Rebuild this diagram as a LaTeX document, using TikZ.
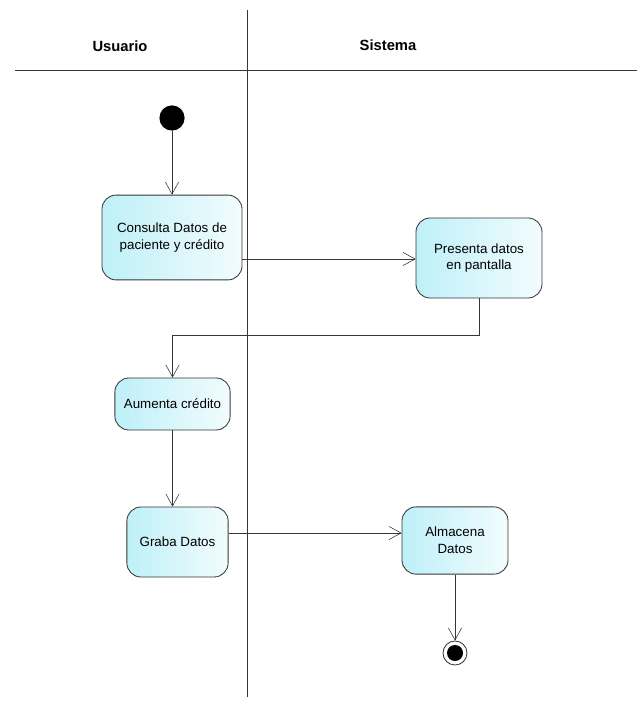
\documentclass[tikz,border=0pt]{standalone}
\usepackage{fontspec}
\setmainfont{Liberation Sans}
\usetikzlibrary{arrows.meta, positioning}
\definecolor{actfill}{RGB}{190,240,248}
\definecolor{linecol}{RGB}{55,55,55}

\begin{document}
\begin{tikzpicture}[
    x=0.025cm, y=-0.025cm,
    action/.style={draw=linecol, rounded corners=10pt, semithick, left color=actfill, right color=actfill!20, align=center, font=\fontsize{9.5}{12}\selectfont, inner sep=2pt},
    flow/.style={draw=linecol, -{Straight Barb[length=3mm, width=3.3mm]}},
    lane/.style={draw=linecol, semithick},
    lanetitle/.style={font=\bfseries\fontsize{10.5}{12}\selectfont}
]
  \useasboundingbox (0,0) rectangle (639,708);

  % Swimlanes
  \coordinate (hl) at (15,70);
  \coordinate (hr) at (637,70);
  \coordinate (vt) at (247,10);
  \coordinate (vb) at (247,697);
  \draw[lane] (hl) -- (hr);
  \draw[lane] (vt) -- (vb);
  \node[lanetitle] (usr) at (120,46) {Usuario};
  \node[lanetitle] (sys) at (388,45) {Sistema};

  % Start
  \node[circle, fill=black, minimum size=0.63cm, inner sep=0pt] (start) at (172,118) {};

  % Actions
  \node[action, minimum width=3.5cm, minimum height=2.12cm] (cons) at (172,237.5) {Consulta Datos de\\paciente y crédito};
  \node[action, minimum width=3.15cm, minimum height=2.0cm] (pres) at (479,258) {Presenta datos\\en pantalla};
  \node[action, minimum width=2.88cm, minimum height=1.3cm] (aum) at (172.5,404) {Aumenta crédito};
  \node[action, minimum width=2.53cm, minimum height=1.75cm] (grab) at (177.5,542) {Graba Datos};
  \node[action, minimum width=2.65cm, minimum height=1.68cm] (alm) at (455,540.5) {Almacena\\Datos};

  % End
  \node[circle, draw=linecol, semithick, fill=white, minimum size=0.6cm, inner sep=0pt] (fin) at (455,653) {};
  \node[circle, fill=black, minimum size=0.4cm, inner sep=0pt] (findot) at (fin) {};

  % Flows
  \draw[flow] (start) -- (cons);
  \draw[flow] (cons.east |- 0,259) -- (pres.west |- 0,259);
  \draw[flow] (pres.south) -- ++(0,37) -| (aum.north);
  \draw[flow] (aum.south) -- (aum.south |- grab.north);
  \draw[flow] (grab.east |- 0,533) -- (alm.west |- 0,533);
  \draw[flow] (alm.south) -- (fin.north);
\end{tikzpicture}
\end{document}
